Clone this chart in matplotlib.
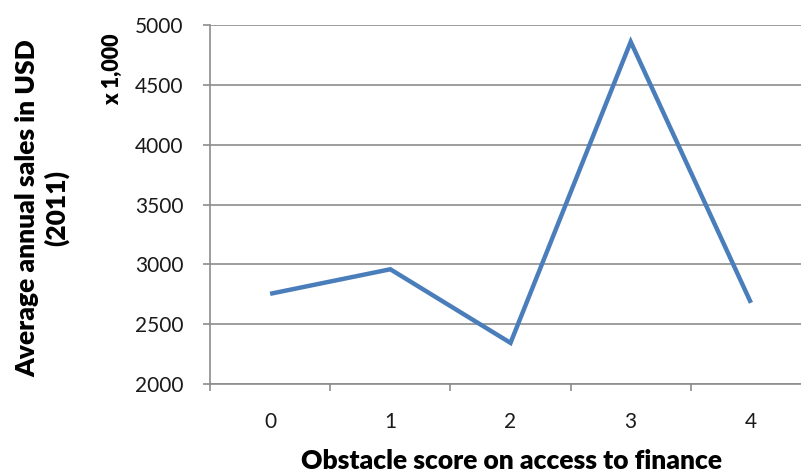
import matplotlib
matplotlib.use("Agg")
import matplotlib.pyplot as plt

# Obstacle score vs. average annual sales (thousands of USD)
categories = ["0", "1", "2", "3", "4"]
sales = [2755, 2960, 2345, 4860, 2680]
y_ticks = [2000, 2500, 3000, 3500, 4000, 4500, 5000]

plt.rcParams["font.family"] = ["Lato", "DejaVu Sans"]

fig = plt.figure(figsize=(8.01, 4.72), dpi=100)
ax = fig.add_axes([0.2622, 0.186, 0.7503, 0.761])

x = list(range(len(categories)))
ax.plot(x, sales, color="#4A7EBB", linewidth=3.2, solid_joinstyle="miter",
        solid_capstyle="butt", zorder=3)

ax.set_xlim(-0.5, len(categories) - 0.5)
ax.set_ylim(2000, 5000)
ax.set_yticks(y_ticks)
ax.set_yticklabels([str(v) for v in y_ticks], fontsize=15, color="#1a1a1a")

# category labels centred, tick marks on boundaries
ax.set_xticks(x)
ax.set_xticklabels(categories, fontsize=15, color="#1a1a1a")
ax.tick_params(axis="x", which="major", length=0, pad=20)
ax.set_xticks([i - 0.5 for i in range(len(categories) + 1)], minor=True)
ax.tick_params(axis="x", which="minor", length=5, width=1.2, color="#8c8c8c",
               direction="out")
ax.tick_params(axis="y", length=5, width=1.2, color="#8c8c8c", pad=14)

ax.grid(axis="y", color="#8c8c8c", linewidth=1.2)
ax.set_axisbelow(True)
for side in ("top", "right"):
    ax.spines[side].set_visible(False)
for side in ("left", "bottom"):
    ax.spines[side].set_color("#8c8c8c")
    ax.spines[side].set_linewidth(1.2)

fig.text(0.638, 0.024, "Obstacle score on access to finance", ha="center",
         va="center", fontsize=19, fontweight="heavy")
fig.text(0.053, 0.559, "Average annual sales in USD\n(2011)", ha="center",
         va="center", rotation=90, fontsize=19, fontweight="heavy",
         linespacing=1.2)
fig.text(0.141, 0.854, "x 1,000", ha="center", va="center", rotation=90,
         fontsize=15.5, fontweight="heavy")

fig.savefig("out.png", dpi=100)
